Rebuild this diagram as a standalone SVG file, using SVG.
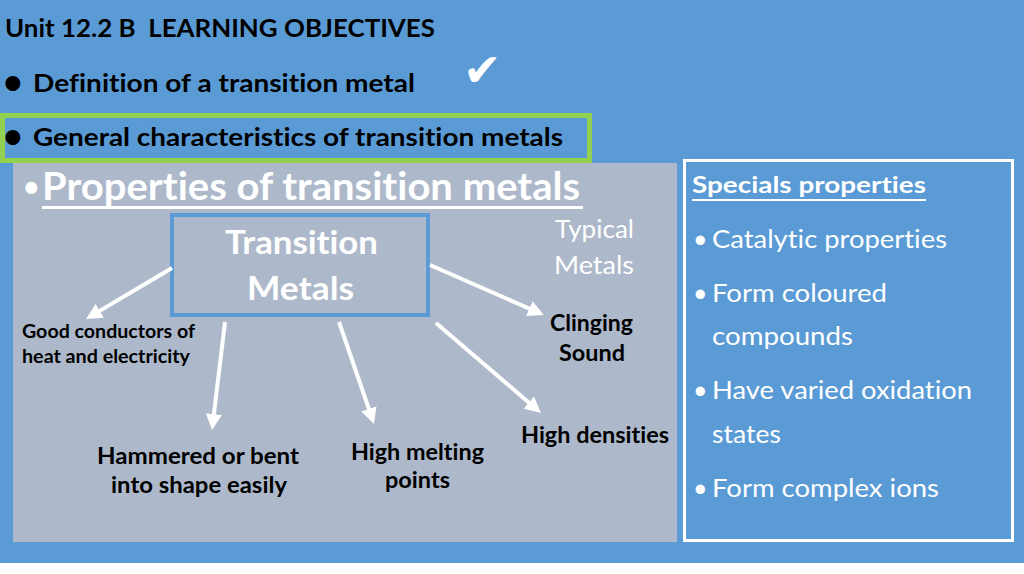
<svg xmlns="http://www.w3.org/2000/svg" width="1024" height="574" viewBox="0 0 1024 574">
<defs>
<style>
text{font-family:Lato,"Open Sans","Liberation Sans",sans-serif;font-variant-ligatures:none;font-feature-settings:"liga" 0,"clig" 0;}
.b{font-weight:bold;}
.k{fill:#000000;}
.w{fill:#ffffff;}
.pre{white-space:pre;}
.conn line{stroke:#ffffff;stroke-width:4;marker-end:url(#ah);}
</style>
<marker id="ah" markerUnits="userSpaceOnUse" markerWidth="16" markerHeight="16" refX="6" refY="8" orient="auto">
<path d="M0,0 L16,8 L0,16 z" fill="#ffffff"/>
</marker>
</defs>
<rect x="0" y="0" width="1024" height="574" fill="#ffffff"/>
<rect x="0" y="0" width="1024" height="563" fill="#5B9BD5"/>
<g id="header">
<text class="b k pre" x="5" y="37" font-size="24" textLength="430" lengthAdjust="spacingAndGlyphs">Unit 12.2 B  LEARNING OBJECTIVES</text>
<text class="b k" x="3" y="94" font-size="34">•</text>
<text class="b k" x="33" y="92" font-size="25.5" textLength="382" lengthAdjust="spacingAndGlyphs">Definition of a transition metal</text>
<text class="w" x="463" y="86" font-size="46" style="font-family:'DejaVu Sans',sans-serif">✔</text>
</g>
<g id="current-objective">
<rect x="2.5" y="115.5" width="587" height="45" fill="none" stroke="#92D050" stroke-width="5"/>
<text class="b k" x="3" y="148" font-size="34">•</text>
<text class="b k" x="33" y="146" font-size="25.5" textLength="530" lengthAdjust="spacingAndGlyphs">General characteristics of transition metals</text>
</g>
<g id="properties-panel">
<rect x="13" y="163" width="664" height="379" fill="#ADB9CA"/>
<text class="w" x="22" y="198" font-size="32">•</text>
<text class="b w" x="42" y="200" font-size="39" textLength="538" lengthAdjust="spacingAndGlyphs">Properties of transition metals</text>
<rect x="42" y="206" width="541" height="3" fill="#ffffff"/>
<text class="w" x="555" y="238" font-size="25" textLength="79" lengthAdjust="spacingAndGlyphs">Typical</text>
<text class="w" x="554" y="274" font-size="25" textLength="80" lengthAdjust="spacingAndGlyphs">Metals</text>
</g>
<g id="transition-metals">
<rect x="172" y="215" width="256" height="100" fill="none" stroke="#5B9BD5" stroke-width="4"/>
<text class="b w" x="225" y="254" font-size="32" textLength="153" lengthAdjust="spacingAndGlyphs">Transition</text>
<text class="b w" x="247" y="300" font-size="32" textLength="107" lengthAdjust="spacingAndGlyphs">Metals</text>
</g>
<g id="good-conductors">
<text class="b k" x="22" y="338" font-size="18" textLength="173" lengthAdjust="spacingAndGlyphs">Good conductors of</text>
<text class="b k" x="22" y="363" font-size="18" textLength="168" lengthAdjust="spacingAndGlyphs">heat and electricity</text>
</g>
<g id="hammered">
<text class="b k" x="97" y="464" font-size="22" textLength="202" lengthAdjust="spacingAndGlyphs">Hammered or bent</text>
<text class="b k" x="111" y="493" font-size="22" textLength="176" lengthAdjust="spacingAndGlyphs">into shape easily</text>
</g>
<g id="high-melting">
<text class="b k" x="351" y="460" font-size="22" textLength="133" lengthAdjust="spacingAndGlyphs">High melting</text>
<text class="b k" x="385" y="488" font-size="22" textLength="65" lengthAdjust="spacingAndGlyphs">points</text>
</g>
<g id="high-densities">
<text class="b k" x="521" y="443" font-size="22" textLength="148" lengthAdjust="spacingAndGlyphs">High densities</text>
</g>
<g id="clinging-sound">
<text class="b k" x="550" y="331" font-size="22" textLength="83" lengthAdjust="spacingAndGlyphs">Clinging</text>
<text class="b k" x="559" y="361" font-size="22" textLength="66" lengthAdjust="spacingAndGlyphs">Sound</text>
</g>
<g id="connectors" class="conn">
<line x1="172" y1="268" x2="94.6" y2="313.9"/>
<line x1="225" y1="322" x2="213.2" y2="420.1"/>
<line x1="339" y1="322" x2="370.8" y2="414.5"/>
<line x1="430" y1="265" x2="534.8" y2="311"/>
<line x1="436" y1="323" x2="533.4" y2="406.5"/>
</g>
<g id="special-properties">
<rect x="684.5" y="160.5" width="328" height="380" fill="none" stroke="#ffffff" stroke-width="3"/>
<text class="b w" x="692" y="193" font-size="22" textLength="234" lengthAdjust="spacingAndGlyphs">Specials properties</text>
<rect x="692" y="199" width="234" height="2" fill="#ffffff"/>
<text class="w" x="693" y="248" font-size="25">•</text>
<text class="w" x="712" y="248" font-size="25" textLength="235" lengthAdjust="spacingAndGlyphs">Catalytic properties</text>
<text class="w" x="693" y="302" font-size="25">•</text>
<text class="w" x="712" y="302" font-size="25" textLength="175" lengthAdjust="spacingAndGlyphs">Form coloured</text>
<text class="w" x="712" y="345" font-size="25" textLength="141" lengthAdjust="spacingAndGlyphs">compounds</text>
<text class="w" x="693" y="399" font-size="25">•</text>
<text class="w" x="712" y="399" font-size="25" textLength="260" lengthAdjust="spacingAndGlyphs">Have varied oxidation</text>
<text class="w" x="712" y="443" font-size="25" textLength="69" lengthAdjust="spacingAndGlyphs">states</text>
<text class="w" x="693" y="497" font-size="25">•</text>
<text class="w" x="712" y="497" font-size="25" textLength="227" lengthAdjust="spacingAndGlyphs">Form complex ions</text>
</g>
</svg>
